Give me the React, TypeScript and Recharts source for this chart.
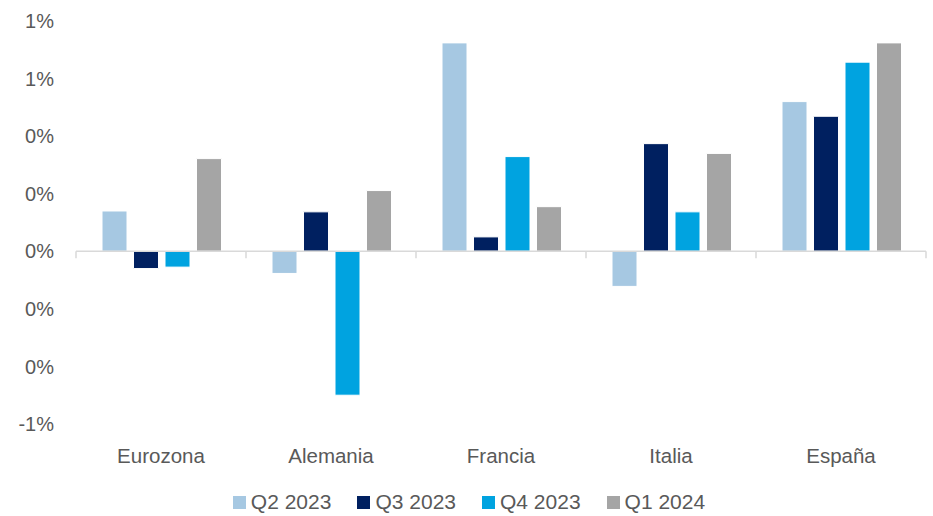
import { Bar, BarChart, Legend, ReferenceLine, XAxis, YAxis } from "recharts";

const regiones = ["Eurozona", "Alemania", "Francia", "Italia", "España"];
const q2_2023 = [0.14, -0.077, 0.724, -0.122, 0.52];
const q3_2023 = [-0.06, 0.137, 0.05, 0.374, 0.469];
const q4_2023 = [-0.055, -0.5, 0.329, 0.137, 0.657];
const q1_2024 = [0.322, 0.211, 0.155, 0.34, 0.724];
const yTicks = [-0.6, -0.4, -0.2, 0, 0.2, 0.4, 0.6, 0.8];

const series = [
  { key: "q2", name: "Q2 2023", color: "#A6C8E2" },
  { key: "q3", name: "Q3 2023", color: "#002060" },
  { key: "q4", name: "Q4 2023", color: "#00A3E0" },
  { key: "q1", name: "Q1 2024", color: "#A5A5A5" },
];

const data = regiones.map((region, i) => ({
  region,
  q2: q2_2023[i],
  q3: q3_2023[i],
  q4: q4_2023[i],
  q1: q1_2024[i],
}));

const textColor = "#595959";
const font = "'Liberation Sans', Arial, sans-serif";

// línea del cero con marcas entre categorías, como en Excel
function ZeroLine(props: any) {
  const { x1, x2, y1 } = props;
  const n = regiones.length;
  const step = (x2 - x1) / n;
  return (
    <g>
      <line x1={x1} x2={x2} y1={y1} y2={y1} stroke="#D9D9D9" strokeWidth={1.5} />
      {Array.from({ length: n + 1 }, (_, i) => (
        <line
          key={i}
          x1={x1 + i * step}
          x2={x1 + i * step}
          y1={y1}
          y2={y1 + 7}
          stroke="#D9D9D9"
          strokeWidth={1.5}
        />
      ))}
    </g>
  );
}

function LegendContent() {
  return (
    <div
      style={{
        display: "flex",
        justifyContent: "center",
        alignItems: "center",
        height: 42,
        gap: 26,
        fontFamily: font,
        fontSize: 21,
        lineHeight: "24px",
        color: textColor,
        paddingLeft: 12,
        paddingTop: 14,
        boxSizing: "border-box",
      }}
    >
      {series.map((s) => (
        <div key={s.key} style={{ display: "flex", alignItems: "center", gap: 5 }}>
          <span style={{ width: 13, height: 13, background: s.color, display: "inline-block" }} />
          <span>{s.name}</span>
        </div>
      ))}
    </div>
  );
}

export default function App() {
  return (
    <div style={{ position: "absolute", left: 0, top: 0, background: "#fff" }}>
      <BarChart
        width={933}
        height={516}
        data={data}
        margin={{ top: 21, right: 7, left: 0, bottom: 0 }}
        barCategoryGap={26}
        barGap={6.5}
      >
        <XAxis
          dataKey="region"
          axisLine={false}
          tickLine={false}
          height={50}
          tickMargin={18}
          tick={{ fill: textColor, fontSize: 20.5, fontFamily: font }}
        />
        <YAxis
          width={76}
          domain={[-0.6, 0.8]}
          ticks={yTicks}
          axisLine={false}
          tickLine={false}
          tickMargin={16}
          tick={{ fill: textColor, fontSize: 20, fontFamily: font }}
          tickFormatter={(v: number) => `${Math.round(v) || 0}%`}
        />
        <ReferenceLine y={0} shape={ZeroLine} />
        {series.map((s) => (
          <Bar
            key={s.key}
            dataKey={s.key}
            name={s.name}
            fill={s.color}
            stroke="#fff"
            strokeWidth={1}
            isAnimationActive={false}
          />
        ))}
        <Legend verticalAlign="bottom" height={42} content={<LegendContent />} />
      </BarChart>
    </div>
  );
}
